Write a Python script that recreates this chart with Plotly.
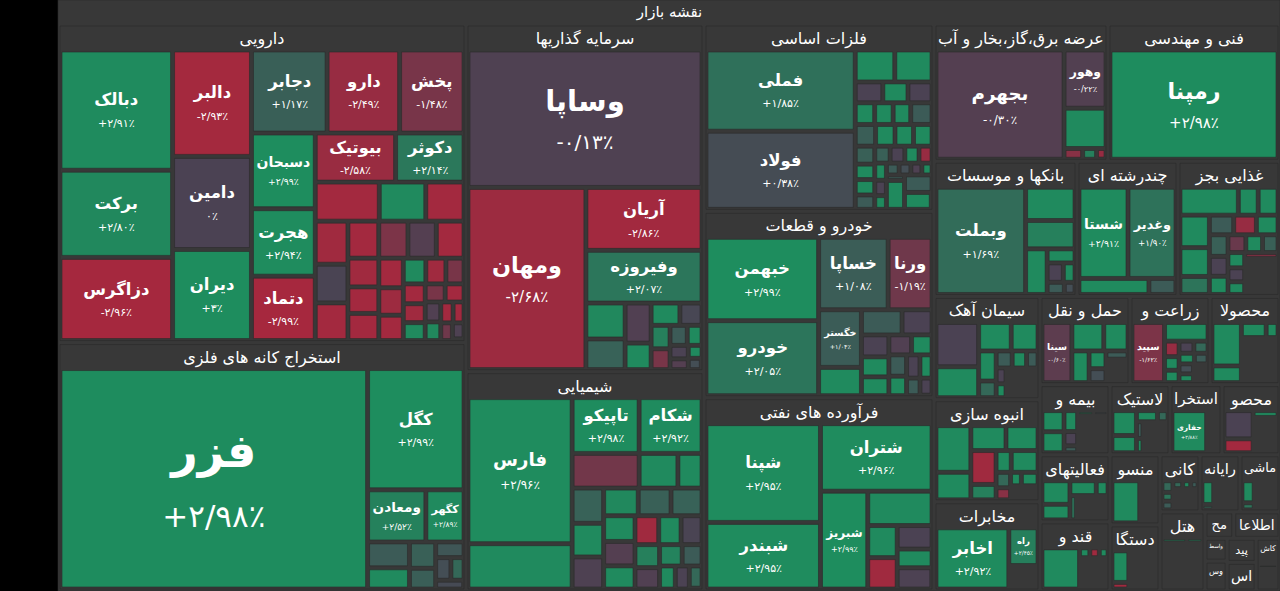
import math
import plotly.graph_objects as go

title = "نقشه بازار"

sector_names = [
    "دارویی", "استخراج کانه های فلزی", "سرمایه گذاریها", "شیمیایی",
    "فلزات اساسی", "خودرو و قطعات", "فرآورده های نفتی",
    "عرضه برق،گاز،بخار و آب", "فنی و مهندسی", "بانکها و موسسات",
    "چندرشته ای", "غذایی بجز", "سیمان آهک", "انبوه سازی", "مخابرات",
    "حمل و نقل", "زراعت و", "محصولا", "بیمه و", "فعالیتهای", "قند و",
    "لاستیک", "استخرا", "محصو", "منسو", "دستگا", "کانی", "رایانه", "ماشی",
    "هتل", "مح", "اطلاعا", "واسط", "وس", "پید", "اس", "کاش",
]
sector_sizes = [
    129744, 101184, 82586, 52122, 43010, 42780, 44390,
    23838, 23564, 19305, 13635, 13770, 10918, 10812, 9434,
    7920, 7040, 6160, 4900, 4690, 4830, 4200, 3640, 4060, 3500, 3300,
    2280, 2280, 2280, 3555, 760, 1220, 500, 660, 700, 830, 1255,
]

leaf_names = [
    ["دبالک", "برکت", "دزاگرس", "دالبر", "دامین", "دیران", "دجابر", "دارو", "پخش",
     "دسبحان", "هجرت", "دتماد", "بیوتیک", "دکوثر"],
    ["فزر", "کگل", "ومعادن", "کگهر"],
    ["وساپا", "ومهان", "آریان", "وفیروزه"],
    ["فارس", "", "تاپیکو", "شکام"],
    ["فملی", "فولاد"],
    ["خبهمن", "خودرو", "خساپا", "ورنا", "خگستر"],
    ["شپنا", "شبندر", "شتران", "شبریز"],
    ["بجهرم", "وهور"],
    ["رمپنا"],
    ["وبملت"],
    ["شستا", "وغدیر"],
    [], [], [],
    ["اخابر", "راه"],
    ["سینا"],
    ["سپید"],
    [], [], [], [], [],
    ["حفاری"],
    [], [], [], [], [], [], [], [], [], [], [], [], [], [],
]

leaf_sizes = [
    [13080, 9483, 9047, 8112, 7098, 6942, 6068, 5822, 5166, 4662, 4158, 3969, 3807, 3243,
     2418, 1755, 1443, 1360, 1224, 1190, 1102, 1044, 1015, 990, 858, 792, 810, 700, 650,
     600, 560, 500, 450, 420, 400, 380, 350, 330, 300, 280, 250, 220, 200, 180],
    [68768, 11858, 3080, 2016, 1100, 900, 700, 550, 450, 350, 300, 250],
    [32606, 21762, 7400, 6200, 1428, 1218, 1056, 700, 650, 500, 450, 400, 350, 300, 250,
     200, 180, 150],
    [15080, 4680, 3705, 3477, 2304, 1332, 828, 1100, 1050, 1000, 950, 900, 850, 800, 760,
     720, 680, 640, 600, 560, 520, 480, 420, 360, 320, 280],
    [12080, 11627, 1258, 1184, 575, 525, 500, 420, 400, 380, 460, 440, 420, 400, 400, 350,
     300, 300, 280, 260, 250, 240, 220, 200, 180, 160, 150, 140, 130, 120, 100, 520, 480, 450],
    [8720, 7848, 4680, 2952, 2295, 1125, 950, 700, 560, 510, 480, 420, 380, 350, 320, 290,
     260, 220, 190],
    [10764, 7254, 7169, 4400, 2100, 900, 880, 780, 620, 700],
    [14000, 2444, 1692, 200, 150, 100],
    [17360],
    [9156, 1566, 1334, 936, 374, 300, 216, 200, 120],
    [4464, 4371, 1120, 432],
    [1537, 522, 522, 900, 800, 500, 450, 420, 400, 380, 350, 320, 300, 280, 260, 240, 220,
     200, 180],
    [1935, 1350, 952, 782, 540, 300, 280, 250, 200, 160, 140, 120],
    [1672, 988, 900, 820, 880, 400, 340, 600, 230, 180, 150, 230],
    [4851, 1197],
    [1984, 1000, 760, 600, 330, 260, 200],
    [2170, 900, 250, 220, 200, 200, 190, 180, 160, 160, 140],
    [1425, 550, 418, 200, 120],
    [589, 589, 361, 247, 120, 100, 90],
    [861, 570, 510, 228, 204],
    [1978, 130, 120, 110, 80],
    [780, 540, 300, 150, 140, 120],
    [1892],
    [1056, 522, 216],
    [1520],
    [720, 150, 120],
    [200, 150, 150, 120, 100, 90],
    [435, 100],
    [420, 135],
    [150, 100],
    [100], [150], [80], [100], [90], [120], [150],
]

leaf_changes = [
    [2.91, 2.80, -2.96, -2.93, 0, 3, 1.17, -2.49, -1.48, 2.99, 2.94, -2.99, -2.58, 2.14,
     -2.9, 2.9, -2.9, -2.8, 0.1, -2.9, -2.9, -1.6, -0.3, -2.9, -2.8, -2.9, -2.9, -2.9, -2.7,
     -2.9, 2.9, -2.8, -1.5, -2.9, -2.8, 2.9, -1.5, -2.9, -0.2, 2.8, -2.9, -2.9, -1.2, -0.1],
    [2.98, 2.99, 2.52, 2.89, 1.0, 2.9, 1.2, 1.1, 0.8, 0.5, 1.5, 0.3],
    [-0.13, -2.68, -2.86, 2.07, 2.8, 1.3, -0.2, 2.9, 2.9, 0.2, 2.5, -1.5, 1.0, 2.9, 0,
     -0.3, 2.9, 0.5],
    [2.96, 2.9, 2.98, 2.92, -1.3, 2.9, 2.9, 1.3, 2.9, -0.1, 2.8, 1.2, 1.3, 2.9, -0.3, 2.9,
     -2.8, 2.9, 0.1, 2.5, -0.2, 2.6, 1.0, 2.9, 0, 1.5],
    [1.85, 0.38, 2.9, 2.9, 0, 2.9, 0, 2.9, 2.9, 2.9, 1.0, 1.1, 2.9, 2.9, 2.9, 1.2, 2.9, 2.9,
     1.0, 1.2, 0, 2.9, -2.5, 2.9, 0, 2.9, 1.0, 0.5, -0.1, 2.9, 1.0, 2.9, 1.0, 2.9],
    [2.99, 2.05, 1.08, -1.19, 1.04, 2.9, 1.0, 0, 0, 2.9, 2.9, -0.2, 2.9, 1.0, 2.9, 0, 2.9,
     1.0, 0],
    [2.95, 2.95, 2.96, 2.99, 2.9, 2.9, -2.8, 0, 2.9, -0.05],
    [-0.30, -0.22, 2.9, -2.0, 2.5, -2.5],
    [2.98],
    [1.69, 2.9, 2.5, 2.9, 2.9, 0, 2.9, 1.0, 0.5],
    [2.91, 1.90, 2.9, 1.0],
    [2.9, 2.9, 2.9, 2.9, 2.9, 2.0, 1.0, -2.5, 2.9, 1.2, 0, 2.9, -1.0, 2.9, 1.2, 2.9, 0, 2.9,
     -2.0],
    [0, 2.9, 2.9, 2.9, 2.9, 1.5, 1.0, 2.9, 1.0, 0, 2.9, 1.0],
    [2.9, 2.9, 2.9, 2.9, -2.8, 2.5, 2.9, 2.9, 1.5, -2.0, 2.9, 2.9],
    [2.92, 2.45],
    [-0.60, 2.9, 2.9, 2.9, 2.9, 0.5, 1.0],
    [-1.62, 2.9, -2.5, 2.9, 2.9, 0, 1.5, 2.9, 1.0, 0.5, 2.9],
    [2.9, 2.9, 2.9, 2.9, 1.0],
    [2.9, 2.9, 2.9, 0, 1.0, 2.9, 0.5],
    [2.9, 2.9, 2.9, 2.9, 2.0],
    [2.9, 2.9, -2.8, 2.9, 1.0],
    [2.9, 2.9, 2.9, 1.5, 1.0, 2.9],
    [2.88],
    [0, -2.9, 2.9],
    [2.9],
    [2.9, -2.8, 2.9],
    [1.5, 2.0, 1.0, 1.5, 2.9, 1.0],
    [2.9, 1.5],
    [2.9, 2.0],
    [2.9, 2.9],
    [1.0], [2.9], [1.0], [2.9], [1.0], [2.9], [2.9],
]

# ---------------------------------------------------------------- styling
BG = "#383838"
RED = (166, 40, 62)
GRAY = (75, 66, 83)
GREEN = (30, 141, 94)
FONT = "DejaVu Sans"
FA = str.maketrans("0123456789.", "۰۱۲۳۴۵۶۷۸۹/")


def fmt_change(v):
    if abs(v - round(v)) < 1e-9:
        s = str(int(round(abs(v))))
    else:
        s = f"{abs(v):.2f}"
    sign = "+" if v > 0 else ("-" if v < 0 else "")
    return sign + s.translate(FA) + "٪"


def change_color(v):
    t = max(-1.0, min(1.0, v / 3.0))
    end = GREEN if t >= 0 else RED
    t = abs(t)
    return "rgb(%d,%d,%d)" % tuple(round(GRAY[i] + (end[i] - GRAY[i]) * t) for i in range(3))


ids, labels, parents, values, colors, texts, fsizes = [], [], [], [], [], [], []

ids.append("root"); labels.append(title); parents.append("")
values.append(sum(sector_sizes)); colors.append(BG)
texts.append(f"<b>{title}</b>"); fsizes.append(15)

for i, name in enumerate(sector_names):
    sid = f"s{i}"
    P = sector_sizes[i]
    ids.append(sid); labels.append(name); parents.append("root")
    values.append(P); colors.append(BG)
    texts.append(f"<b>{name}</b>"); fsizes.append(16)
    sizes = leaf_sizes[i]
    chg = leaf_changes[i]
    names = leaf_names[i] + [""] * (len(sizes) - len(leaf_names[i]))
    k = P / max(sum(sizes), 0.72 * P)
    for j, (nm, sz, ch) in enumerate(zip(names, sizes, chg)):
        v = max(1, math.floor(sz * k))
        ids.append(f"{sid}/{j}")
        labels.append(nm if nm else "·")
        parents.append(sid)
        values.append(v)
        colors.append(change_color(ch))
        fs = min(46, 16.5 + max(0.0, math.sqrt(v) - 125) * 0.2)
        fsizes.append(round(fs, 1))
        if nm:
            pf = max(10, round(fs * 0.68))
            texts.append(f"<b>{nm}</b><br><span style='font-size:{pf}px'>{fmt_change(ch)}</span>")
        else:
            texts.append("")

fig = go.Figure(go.Treemap(
    ids=ids, labels=labels, parents=parents, values=values,
    branchvalues="total", sort=False,
    text=texts, texttemplate="%{text}", textposition="middle center",
    textfont=dict(family=FONT, size=fsizes, color="#ffffff"),
    outsidetextfont=dict(family=FONT, size=15, color="#ffffff"),
    marker=dict(colors=colors, line=dict(width=0.6, color="#2a2a2a"),
                pad=dict(t=26, l=2, r=2, b=2)),
    tiling=dict(packing="squarify", squarifyratio=1, pad=4),
    pathbar=dict(visible=False),
    root=dict(color=BG),
    hovertemplate="%{label}<extra></extra>",
))
fig.update_layout(width=1280, height=591, margin=dict(l=58, r=0, t=0, b=0),
                  paper_bgcolor="#000000", font=dict(family=FONT, color="#ffffff"))
fig.write_html("out.html", config={"displayModeBar": False},
               post_script="document.body.style.margin='0';")
